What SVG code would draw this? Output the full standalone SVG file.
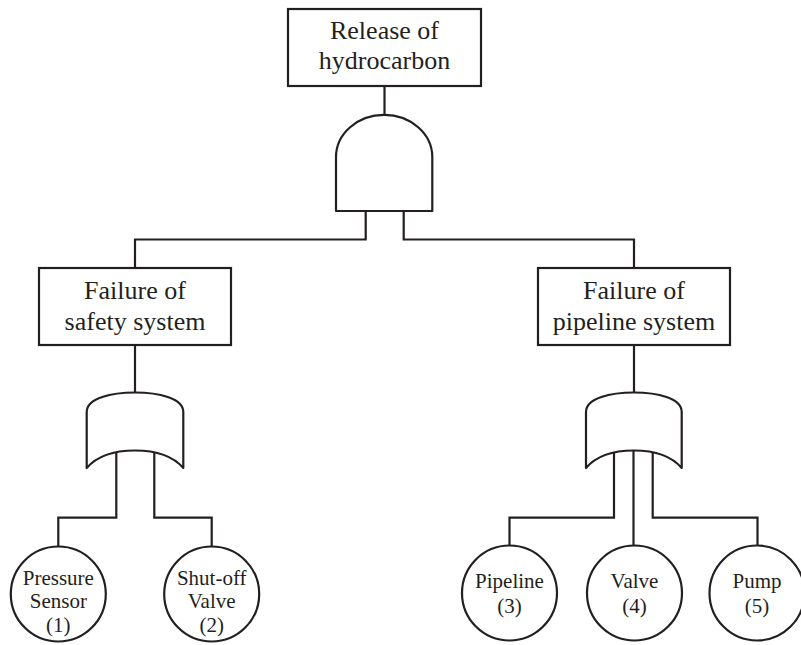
<svg xmlns="http://www.w3.org/2000/svg" width="801" height="645" viewBox="0 0 801 645">
<style>
.b{fill:#fff;stroke:#231f20;stroke-width:2.2}
.g{fill:#fff;stroke:#231f20;stroke-width:2.2;stroke-linejoin:round}
.c{fill:none;stroke:#231f20;stroke-width:2.2}
.t{font-family:"Liberation Serif","Times New Roman",serif;fill:#231f20;text-anchor:middle}
.tb{font-size:26px}
.tc{font-size:21px}
</style>
<rect width="801" height="645" fill="#fff"/>
<g id="connectors">
<path class="c" d="M384.5,86 V115"/>
<path class="c" d="M365.7,211 V239.5 H135 V268"/>
<path class="c" d="M403.7,211 V239.5 H634 V268"/>
<path class="c" d="M135,345 V392.5"/>
<path class="c" d="M634,345 V392.5"/>
<path class="c" d="M116.3,451 V517.7 H58.3 V546.5"/>
<path class="c" d="M154.3,451 V517.7 H211.7 V546.5"/>
<path class="c" d="M614,451 V517.7 H509.5 V545.5"/>
<path class="c" d="M633.5,450 V545.5"/>
<path class="c" d="M652.7,451 V517.7 H757.5 V545.5"/>
</g>
<g id="top-event">
<rect class="b" x="288" y="9" width="193" height="77"/>
<text class="t tb" x="384.5" y="38.5">Release of</text>
<text class="t tb" x="384.5" y="68.5">hydrocarbon</text>
</g>
<g id="and-gate">
<path class="g" d="M336,211 V157 A48,42 0 0 1 432.3,157 V211 Z"/>
</g>
<g id="safety-system">
<rect class="b" x="39" y="268" width="192" height="77"/>
<text class="t tb" x="135" y="298.5">Failure of</text>
<text class="t tb" x="135" y="329.5">safety system</text>
</g>
<g id="pipeline-system">
<rect class="b" x="538" y="268" width="192" height="77"/>
<text class="t tb" x="634" y="298.5">Failure of</text>
<text class="t tb" x="634" y="329.5">pipeline system</text>
</g>
<g id="or-gate-left">
<path class="g" d="M86.7,468 V412 C86.7,398 112,392.5 135,392.5 C158,392.5 183.3,398 183.3,412 V468 C172,455 155,450.5 135,450.5 C115,450.5 98,455 86.7,468 Z"/>
</g>
<g id="or-gate-right">
<path class="g" d="M586,468 V412 C586,398 611,392.5 634,392.5 C657,392.5 681.7,398 681.7,412 V468 C670.5,455 654,450.5 634,450.5 C614,450.5 597,455 586,468 Z"/>
</g>
<g id="pressure-sensor">
<circle class="b" cx="58.3" cy="594" r="47.5"/>
<text class="t tc" x="58.3" y="585">Pressure</text>
<text class="t tc" x="58.3" y="608">Sensor</text>
<text class="t tc" x="58.3" y="631.5">(1)</text>
</g>
<g id="shutoff-valve">
<circle class="b" cx="211.7" cy="594" r="47.5"/>
<text class="t tc" x="211.7" y="585">Shut-off</text>
<text class="t tc" x="211.7" y="608">Valve</text>
<text class="t tc" x="211.7" y="631.5">(2)</text>
</g>
<g id="pipeline">
<circle class="b" cx="509.5" cy="593" r="47.5"/>
<text class="t tc" x="509.5" y="588">Pipeline</text>
<text class="t tc" x="509.5" y="612.5">(3)</text>
</g>
<g id="valve">
<circle class="b" cx="634.5" cy="593" r="47.5"/>
<text class="t tc" x="634.5" y="588">Valve</text>
<text class="t tc" x="634.5" y="612.5">(4)</text>
</g>
<g id="pump">
<circle class="b" cx="757" cy="593" r="47.5"/>
<text class="t tc" x="757" y="588">Pump</text>
<text class="t tc" x="757" y="612.5">(5)</text>
</g>
</svg>
